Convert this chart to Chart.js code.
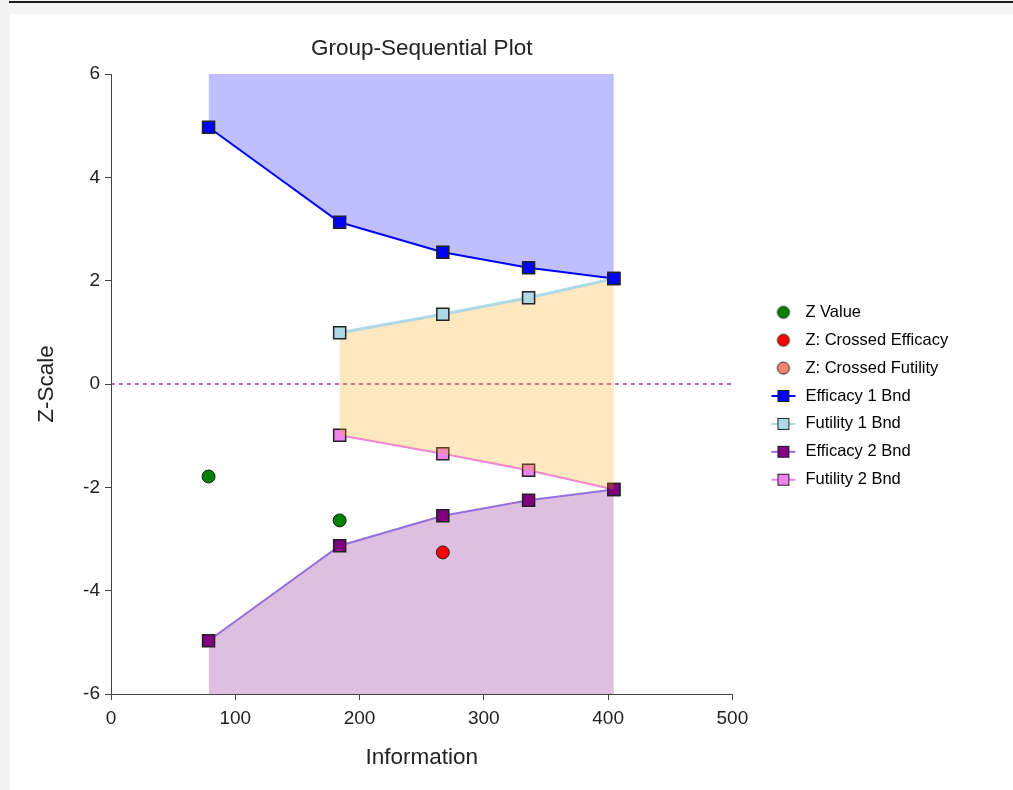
<!DOCTYPE html>
<html>
<head>
<meta charset="utf-8">
<script src="https://cdn.jsdelivr.net/npm/chart.js@4.4.1/dist/chart.umd.min.js"></script>
<style>
body { margin: 0; background: #f4f4f4; }
#topline { position: absolute; left: 9px; right: 0; top: 1px; height: 2px; background: #1a1a1a; }
#panel { position: absolute; left: 10px; top: 14px; width: 1003px; height: 776px; background: #fff; }
</style>
</head>
<body>
<div id="topline"></div>
<div id="panel"><canvas id="myChart" width="1003" height="776"></canvas></div>
<script>
// information levels of the looks
const info = [78.5, 184, 267, 336, 404.6];
const efficacy1 = [4.97, 3.13, 2.55, 2.25, 2.04];
const futility1 = [null, 0.99, 1.35, 1.67, 2.04];
const efficacy2 = [-4.97, -3.13, -2.55, -2.25, -2.04];
const futility2 = [null, -0.99, -1.35, -1.67, -2.04];
// observed z statistics
const zInfo = [78.5, 184];
const zValue = [-1.79, -2.64];
const crossEffInfo = [267];
const crossEffValue = [-3.26];
const crossFutInfo = [];
const crossFutValue = [];
const zeroLine = [0, 500];

const xTicks = [0, 100, 200, 300, 400, 500];
const yTicks = [-6, -4, -2, 0, 2, 4, 6];

const FONT = "'Liberation Sans', Arial, sans-serif";
const legendSize = 16.5;
const legendPad = 11.4;
const iconW = 27.5;
const plotRight = 721;   // wanted right edge of the plot area (canvas px)
const legendGap = 25.85;

function pts(xs, ys) {
    return xs.map((x, i) => ({ x: x, y: ys[i] })).filter(p => p.y !== null);
}

function legendIcon(line, fill, shape) {
    const c = document.createElement('canvas');
    c.width = 30; c.height = 16;
    const g = c.getContext('2d');
    if (line) {
        g.strokeStyle = line; g.lineWidth = 2;
        g.beginPath(); g.moveTo(3, 8); g.lineTo(27, 8); g.stroke();
    }
    g.fillStyle = fill; g.strokeStyle = '#222'; g.lineWidth = 1;
    if (shape === 'circle') {
        g.beginPath(); g.arc(15, 8, 6, 0, Math.PI * 2); g.fill(); g.stroke();
    } else {
        g.fillRect(9.5, 2.5, 11, 11); g.strokeRect(9.5, 2.5, 11, 11);
    }
    return c;
}

const icons = [
    legendIcon(null, '#008000', 'circle'),
    legendIcon(null, '#ff0000', 'circle'),
    legendIcon(null, '#fa8072', 'circle'),
    legendIcon('#0000ff', '#0000ff', 'rect'),
    legendIcon('#add8e6', '#add8e6', 'rect'),
    legendIcon('#9370db', '#800080', 'rect'),
    legendIcon('#ee82ee', '#ee82ee', 'rect')
];

function bound(label, data, line, marker, extra) {
    return Object.assign({
        label: label,
        data: data,
        borderColor: line,
        borderWidth: 2,
        tension: 0,
        pointStyle: 'rect',
        pointRadius: 8.5,
        pointBackgroundColor: marker,
        pointBorderColor: '#222',
        pointBorderWidth: 1.5,
        fill: false
    }, extra);
}

function dots(label, data, color) {
    return {
        label: label,
        data: data,
        showLine: false,
        pointStyle: 'circle',
        pointRadius: 6.5,
        pointBackgroundColor: color,
        pointBorderColor: '#222',
        pointBorderWidth: 1,
        borderColor: color,
        backgroundColor: color
    };
}

const datasets = [
    dots('Z Value', pts(zInfo, zValue), '#008000'),
    dots('Z: Crossed Efficacy', pts(crossEffInfo, crossEffValue), '#ff0000'),
    dots('Z: Crossed Futility', pts(crossFutInfo, crossFutValue), '#fa8072'),
    bound('Efficacy 1 Bnd', pts(info, efficacy1), '#0000ff', '#0000ff',
        { fill: 'end', backgroundColor: 'rgba(0, 0, 255, 0.25)' }),
    bound('Futility 1 Bnd', pts(info, futility1), '#add8e6', '#add8e6',
        { borderWidth: 3, fill: { target: 6 }, backgroundColor: 'rgba(255, 165, 0, 0.25)' }),
    bound('Efficacy 2 Bnd', pts(info, efficacy2), '#9370db', '#800080',
        { fill: 'start', backgroundColor: 'rgba(128, 0, 128, 0.25)' }),
    bound('Futility 2 Bnd', pts(info, futility2), '#ee82ee', '#ee82ee', {}),
    {
        label: '',
        data: pts(zeroLine, [0, 0]),
        borderColor: '#8a008a',
        borderWidth: 1.2,
        borderDash: [4, 4],
        pointRadius: 0,
        fill: false
    }
];

// legend width, so the plot area ends where it should
const meas = document.createElement('canvas').getContext('2d');
meas.font = 'normal ' + legendSize + 'px ' + FONT;
const textW = Math.max(...datasets.filter(d => d.label).map(d => meas.measureText(d.label).width));
const legendW = 2 * legendPad + iconW + legendSize / 2 + textW;
const padRight = 1003 - plotRight - legendGap - legendW;

Chart.defaults.font.family = FONT;
Chart.defaults.color = '#222';

const ctx = document.getElementById('myChart');
new Chart(ctx, {
    type: 'line',
    data: { datasets: datasets },
    options: {
        responsive: false,
        animation: false,
        layout: {
            padding: { left: 0, top: 0, right: padRight, bottom: 12 }
        },
        scales: {
            x: {
                type: 'linear',
                min: 0,
                max: 500,
                afterBuildTicks: s => { s.ticks = xTicks.map(v => ({ value: v })); },
                ticks: { padding: 7, font: { size: 19 } },
                grid: { drawOnChartArea: false, tickLength: 6, color: '#444' },
                border: { color: '#444' },
                title: { display: true, text: 'Information', font: { size: 22.5 }, padding: { top: 0, bottom: 6.5 } },
                afterFit: s => { s.height = 84; }
            },
            y: {
                min: -6,
                max: 6,
                afterBuildTicks: s => { s.ticks = yTicks.map(v => ({ value: v })); },
                ticks: { padding: 5, font: { size: 19 } },
                grid: { drawOnChartArea: false, tickLength: 6, color: '#444' },
                border: { color: '#444' },
                title: { display: true, text: 'Z-Scale', font: { size: 22.5 }, padding: { top: 23, bottom: 0 } },
                afterFit: s => { s.width = 101; }
            },
            gap: {
                type: 'linear',
                position: 'right',
                ticks: { display: false },
                grid: { display: false },
                border: { display: false },
                afterFit: s => { s.width = legendGap; }
            }
        },
        plugins: {
            title: {
                display: true,
                text: 'Group-Sequential Plot',
                fullSize: false,
                font: { size: 22.5, weight: 'normal' },
                padding: { top: 21.5, bottom: 11.5 }
            },
            legend: {
                position: 'right',
                maxWidth: 400,
                labels: {
                    usePointStyle: true,
                    pointStyleWidth: iconW,
                    padding: legendPad,
                    font: { size: legendSize },
                    generateLabels: chart => chart.data.datasets.map((ds, i) => ({
                        text: ds.label,
                        pointStyle: icons[i],
                        datasetIndex: i,
                        hidden: false,
                        lineWidth: 0,
                        fillStyle: 'transparent',
                        strokeStyle: 'transparent'
                    })).filter(item => item.text)
                },
                onClick: () => {}
            },
            tooltip: { enabled: false }
        }
    }
});
</script>
</body>
</html>
